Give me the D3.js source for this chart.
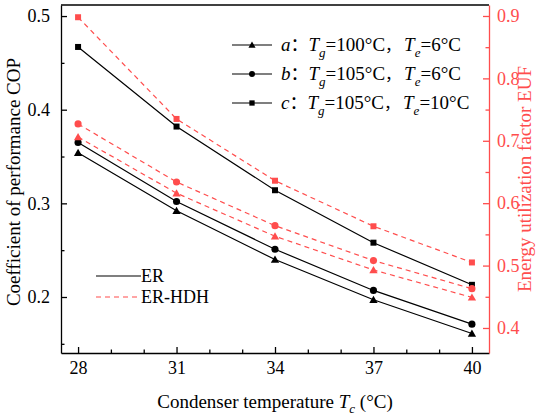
<!DOCTYPE html>
<html>
<head>
  <style>
    body { margin: 0; background: white; }
  </style>
</head>
<body>
  <div id="chart"></div>
  <script src="https://d3js.org/d3.v7.min.js"></script>
  <script>
  // condenser temperature (°C)
  const temps = [28, 31, 34, 37, 40];

  // COP of the ER system (left axis)
  const erA = [0.354, 0.292, 0.240, 0.197, 0.161];
  const erB = [0.365, 0.302, 0.251, 0.207, 0.171];
  const erC = [0.467, 0.382, 0.314, 0.258, 0.213];

  // EUF of the ER-HDH system (right axis)
  const hdhA = [0.706, 0.616, 0.547, 0.493, 0.449];
  const hdhB = [0.727, 0.634, 0.564, 0.508, 0.463];
  const hdhC = [0.898, 0.735, 0.636, 0.563, 0.505];

  const xTicks = [28, 31, 34, 37, 40];
  const copTicks = [0.2, 0.3, 0.4, 0.5];
  const eufTicks = [0.4, 0.5, 0.6, 0.7, 0.8, 0.9];

  const red = "#ff4d4d";
  const serif = "'Liberation Serif', 'DejaVu Serif', serif";
  const cjk = "'Noto Sans CJK SC'";
  const W = 550, H = 420;
  const m = {left: 61, right: 61, top: 5, bottom: 67};

  const svg = d3.select("#chart").append("svg")
      .attr("width", W).attr("height", H)
      .attr("font-family", serif);

  const x = d3.scaleLinear().domain([27.48, 40.52]).range([m.left, W - m.right]);
  const yL = d3.scaleLinear().domain([0.1402, 0.5118]).range([H - m.bottom, m.top]);
  const yR = d3.scaleLinear().domain([0.3599, 0.9176]).range([H - m.bottom, m.top]);

  // frame
  svg.append("line").attr("x1", m.left).attr("x2", W - m.right)
      .attr("y1", m.top).attr("y2", m.top)
      .attr("stroke", "#000").attr("stroke-width", 1.3);

  // axes, ticks point inside
  function styleAxis(g, color) {
    g.attr("font-family", serif);
    g.selectAll("text").attr("font-size", 18).attr("fill", color);
    g.selectAll("line, path").attr("stroke", color).attr("stroke-width", 1.3);
  }

  const xAxis = svg.append("g").attr("transform", `translate(0,${H - m.bottom})`);
  xAxis.call(d3.axisBottom(x).tickValues(d3.range(28, 41, 1)).tickSize(-5).tickSizeOuter(0).tickPadding(8)
      .tickFormat(d => xTicks.includes(d) ? d : ""));
  xAxis.selectAll(".tick line").attr("y2", d => xTicks.includes(d) ? -6 : -3.5);
  styleAxis(xAxis, "#000");

  const lAxis = svg.append("g").attr("transform", `translate(${m.left},0)`);
  lAxis.call(d3.axisLeft(yL).tickValues([0.15, 0.2, 0.25, 0.3, 0.35, 0.4, 0.45, 0.5]).tickSizeOuter(0).tickPadding(5)
      .tickFormat(d => copTicks.some(t => Math.abs(t - d) < 1e-9) ? d3.format(".1f")(d) : ""));
  lAxis.selectAll(".tick line").attr("x2", d => copTicks.some(t => Math.abs(t - d) < 1e-9) ? 6 : 3.5);
  styleAxis(lAxis, "#000");

  const rAxis = svg.append("g").attr("transform", `translate(${W - m.right},0)`);
  rAxis.call(d3.axisRight(yR).tickValues(d3.range(0.4, 0.91, 0.05)).tickSizeOuter(0).tickPadding(2)
      .tickFormat(d => eufTicks.some(t => Math.abs(t - d) < 1e-6) ? d3.format(".1f")(d) : ""));
  rAxis.selectAll(".tick line").attr("x2", d => eufTicks.some(t => Math.abs(t - d) < 1e-6) ? -6 : -3.5);
  styleAxis(rAxis, red);

  // axis titles
  const xt = svg.append("text").attr("x", 275).attr("y", 408)
      .attr("text-anchor", "middle").attr("font-size", 19);
  xt.append("tspan").text("Condenser temperature ");
  xt.append("tspan").attr("font-style", "italic").text("T");
  xt.append("tspan").attr("font-style", "italic").attr("font-size", 13).attr("dy", 5).text("c");
  xt.append("tspan").attr("dy", -5).text(" (°C)");

  svg.append("text").attr("transform", "translate(20,182) rotate(-90)")
      .attr("text-anchor", "middle").attr("font-size", 19)
      .text("Coefficient of performance COP");

  svg.append("text").attr("transform", "translate(531,179) rotate(-90)")
      .attr("text-anchor", "middle").attr("font-size", 19).attr("fill", red)
      .text("Energy utilization factor EUF");

  // markers
  const sym = {
    a: d3.symbol().type(d3.symbolTriangle).size(30),
    b: d3.symbol().type(d3.symbolCircle).size(40),
    c: d3.symbol().type(d3.symbolSquare).size(36)
  };

  const series = [
    {vals: erA, y: yL, color: "#000", dash: null, m: "a"},
    {vals: erB, y: yL, color: "#000", dash: null, m: "b"},
    {vals: erC, y: yL, color: "#000", dash: null, m: "c"},
    {vals: hdhA, y: yR, color: red, dash: "5,4", m: "a"},
    {vals: hdhB, y: yR, color: red, dash: "5,4", m: "b"},
    {vals: hdhC, y: yR, color: red, dash: "5,4", m: "c"}
  ];

  series.forEach(s => {
    const pts = temps.map((t, i) => [x(t), s.y(s.vals[i])]);
    svg.append("path").attr("d", d3.line()(pts))
        .attr("fill", "none").attr("stroke", s.color).attr("stroke-width", 1.2)
        .attr("stroke-dasharray", s.dash);
    svg.selectAll(null).data(pts).join("path")
        .attr("transform", d => `translate(${d[0]},${d[1] + (s.m === "a" ? 0.8 : 0)})`)
        .attr("d", sym[s.m]()).attr("fill", s.color);
  });

  // legend: conditions
  const conds = [
    {m: "a", tg: "100", te: "6"},
    {m: "b", tg: "105", te: "6"},
    {m: "c", tg: "105", te: "10"}
  ];
  conds.forEach((c, i) => {
    const yy = 45 + i * 29;
    svg.append("line").attr("x1", 232).attr("x2", 272).attr("y1", yy).attr("y2", yy)
        .attr("stroke", "#000").attr("stroke-width", 1.2);
    svg.append("path").attr("transform", `translate(252,${yy + (c.m === "a" ? 0.6 : 0)})`)
        .attr("d", d3.symbol().type(c.m === "a" ? d3.symbolTriangle : c.m === "b" ? d3.symbolCircle : d3.symbolSquare)
          .size(c.m === "a" ? 22 : 28)()).attr("fill", "#000");
    const t = svg.append("text").attr("x", 281).attr("y", yy + 6).attr("font-size", 19);
    t.append("tspan").attr("font-style", "italic").text(c.m);
    t.append("tspan").attr("font-family", cjk).attr("font-size", 18).text("：");
    t.append("tspan").attr("font-style", "italic").text("T");
    t.append("tspan").attr("font-style", "italic").attr("font-size", 13).attr("dy", 6).text("g");
    t.append("tspan").attr("dy", -6).text("=" + c.tg + "°C");
    t.append("tspan").attr("font-family", cjk).attr("font-size", 16).text("，");
    t.append("tspan").attr("font-style", "italic").attr("dx", 3).text("T");
    t.append("tspan").attr("font-style", "italic").attr("font-size", 13).attr("dy", 6).text("e");
    t.append("tspan").attr("dy", -6).text("=" + c.te + "°C");
  });

  // legend: systems
  const systems = [
    {name: "ER", color: "#000", dash: null},
    {name: "ER-HDH", color: red, dash: "5,4"}
  ];
  systems.forEach((s, i) => {
    const yy = 276 + i * 21;
    svg.append("line").attr("x1", 96).attr("x2", 141).attr("y1", yy).attr("y2", yy)
        .attr("stroke", s.color).attr("stroke-width", 1.2).attr("stroke-dasharray", s.dash);
    svg.append("text").attr("x", 141).attr("y", yy + 6).attr("font-size", 18).text(s.name);
  });
  </script>
</body>
</html>
